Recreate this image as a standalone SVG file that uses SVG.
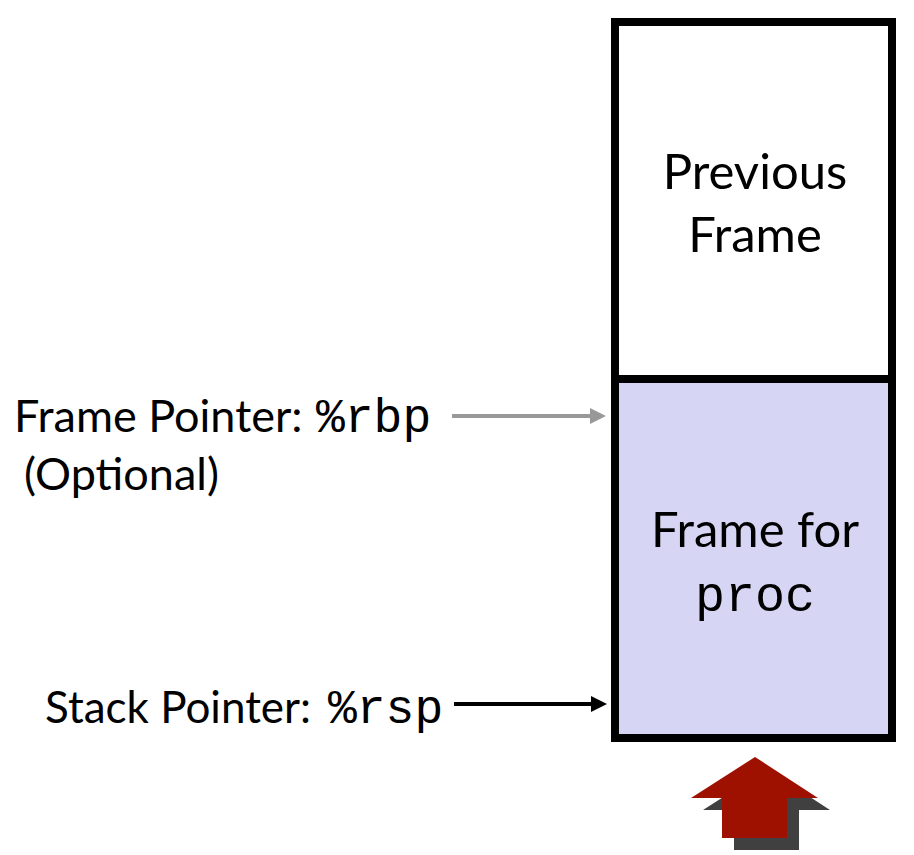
<svg xmlns="http://www.w3.org/2000/svg" width="914" height="855" viewBox="0 0 914 855">
<style>
.lbl{font-family:Lato,"Open Sans",sans-serif;font-size:45px;fill:#000}
.big{font-size:49px}
.mono{font-family:"Liberation Mono","Courier New",monospace;font-size:48px}
.box{stroke:#000;stroke-width:8}
</style>
<defs>
<marker id="headGray" markerUnits="userSpaceOnUse" markerWidth="16" markerHeight="16" refX="0" refY="8" orient="auto"><path d="M0,0 L16,8 L0,16 z" fill="#999"/></marker>
<marker id="headBlack" markerUnits="userSpaceOnUse" markerWidth="16" markerHeight="16" refX="0" refY="8" orient="auto"><path d="M0,0 L16,8 L0,16 z" fill="#000"/></marker>
</defs>
<rect width="914" height="855" fill="#fff"/>
<g id="prev-frame">
<rect class="box" x="615" y="22" width="277" height="357" fill="#fff"/>
<text class="lbl big" x="755" y="189" text-anchor="middle">Previous</text>
<text class="lbl big" x="755" y="252" text-anchor="middle">Frame</text>
</g>
<g id="proc-frame">
<rect class="box" x="615" y="379" width="277" height="359" fill="#d6d6f4"/>
<text class="lbl big" x="755" y="547" text-anchor="middle">Frame for</text>
<text class="lbl mono" x="755" y="611" text-anchor="middle" style="font-size:50px">proc</text>
</g>
<g id="frame-pointer">
<text class="lbl" x="14" y="432">Frame Pointer: <tspan class="mono" x="316">%rbp</tspan></text>
<text class="lbl" x="24" y="490">(Optional)</text>
</g>
<g id="stack-pointer">
<text class="lbl" x="45" y="723" style="font-size:44px">Stack Pointer: <tspan class="mono" x="328">%rsp</tspan></text>
</g>
<g id="growth-arrow">
<polygon points="767,769 830,810 799,810 799,850 734,850 734,810 703,810" fill="#404040"/>
<polygon points="755,757 818,798 787,798 787,838 722,838 722,798 691,798" fill="#9e1000"/>
</g>
<g id="connectors">
<line x1="452" y1="416" x2="590" y2="416" stroke="#999" stroke-width="4" marker-end="url(#headGray)"/>
<line x1="454" y1="704" x2="591" y2="704" stroke="#000" stroke-width="4" marker-end="url(#headBlack)"/>
</g>
</svg>
